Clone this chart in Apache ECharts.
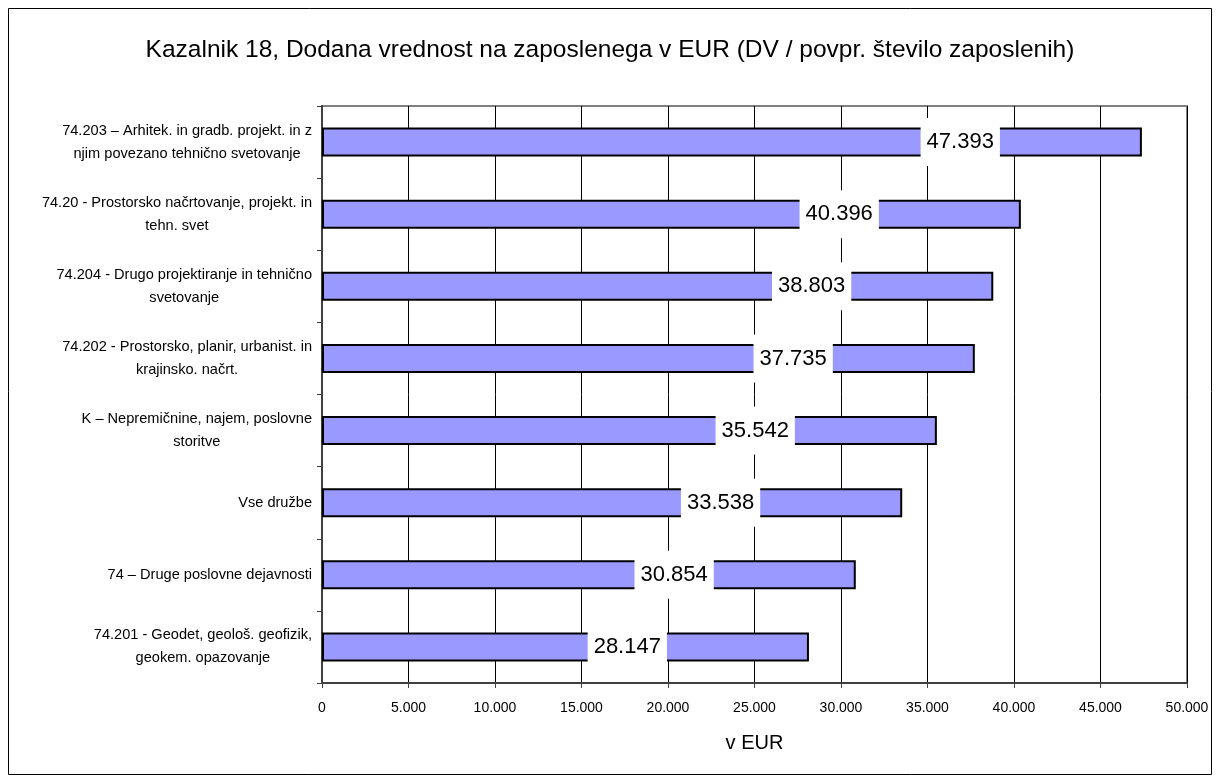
<!DOCTYPE html>
<html>
<head>
<meta charset="utf-8">
<script src="https://cdn.jsdelivr.net/npm/echarts@6/dist/echarts.min.js"></script>
<style>
  html, body { margin: 0; padding: 0; background: #fff; }
  #chart { width: 1220px; height: 783px; }
</style>
</head>
<body>
<div id="chart"></div>
<script>
// podatki (od zgoraj navzdol)
const categories = [
  '74.203 – Arhitek. in gradb. projekt. in z\nnjim povezano tehnično svetovanje',
  '74.20 - Prostorsko načrtovanje, projekt. in\ntehn. svet',
  '74.204 - Drugo projektiranje in tehnično\nsvetovanje',
  '74.202 - Prostorsko, planir, urbanist. in\nkrajinsko. načrt.',
  'K – Nepremičnine, najem, poslovne\nstoritve',
  'Vse družbe',
  '74 – Druge poslovne dejavnosti',
  '74.201 - Geodet, geološ. geofizik,\ngeokem. opazovanje'
]
const values = [47393, 40396, 38803, 37735, 35542, 33538, 30854, 28147]
const xTicks = [0, 5000, 10000, 15000, 20000, 25000, 30000, 35000, 40000, 45000, 50000]

const fmt = v => String(v).replace(/\B(?=(\d{3})+(?!\d))/g, '.')

var myChart = echarts.init(document.getElementById('chart'))

var option = {
  animation: false,
  textStyle: { fontFamily: 'Liberation Sans, Arial, sans-serif', color: '#000' },
  title: {
    text: 'Kazalnik 18, Dodana vrednost na zaposlenega v EUR (DV / povpr. število zaposlenih)',
    left: 'center',
    top: 33,
    textStyle: { fontSize: 24.5, fontWeight: 'normal', color: '#000' }
  },
  graphic: [{
    type: 'rect',
    shape: { x: 8.5, y: 8.5, width: 1203, height: 766 },
    style: { fill: 'none', stroke: '#000', lineWidth: 1 },
    z: -1
  }],
  grid: {
    left: 322, right: 33, top: 106, bottom: 100,
    show: true, borderColor: '#808080', borderWidth: 2
  },
  xAxis: {
    type: 'value',
    min: xTicks[0],
    max: xTicks[xTicks.length - 1],
    interval: 5000,
    name: 'v EUR',
    nameLocation: 'middle',
    nameGap: 50,
    nameTextStyle: { fontSize: 20, color: '#000' },
    axisLine: { show: true, lineStyle: { color: '#404040', width: 2 } },
    axisTick: { show: true, length: 5, lineStyle: { color: '#404040' } },
    axisLabel: { fontSize: 14, color: '#000', margin: 18, formatter: v => fmt(v) },
    splitLine: { show: true, lineStyle: { color: '#000', width: 1 } }
  },
  yAxis: {
    type: 'category',
    inverse: true,
    data: categories,
    axisLine: { show: true, lineStyle: { color: '#404040', width: 2 } },
    axisTick: { show: true, length: 5, lineStyle: { color: '#404040' } },
    axisLabel: {
      margin: 10,
      formatter: v => v.split('\n').map(l => '{c|' + l + '}').join('\n'),
      rich: { c: { align: 'center', fontSize: 14.6, lineHeight: 23, color: '#000' } }
    }
  },
  series: [{
    type: 'bar',
    data: values,
    barWidth: 29,
    itemStyle: { color: '#9999FF', borderColor: '#000', borderWidth: 2 },
    label: {
      show: true,
      position: 'insideRight',
      distance: 142,
      formatter: p => fmt(p.value),
      fontSize: 22,
      color: '#000',
      backgroundColor: '#fff',
      padding: [13, 6]
    }
  }]
}

option && myChart.setOption(option)
</script>
</body>
</html>
